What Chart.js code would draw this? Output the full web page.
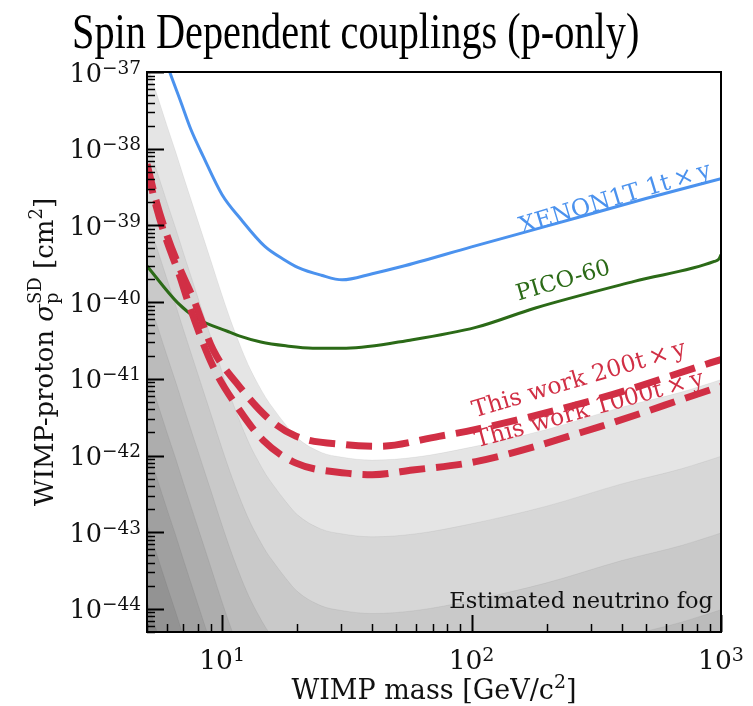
<!DOCTYPE html>
<html>
<head>
<meta charset="utf-8">
<script src="https://cdn.jsdelivr.net/npm/chart.js@4.4.1/dist/chart.umd.min.js"></script>
<style>
  html, body { margin: 0; padding: 0; background: #ffffff; }
  #wrap { width: 753px; height: 706px; }
</style>
</head>
<body>
<div id="wrap"><canvas id="chart" width="753" height="706"></canvas></div>
<script>
// ---- axis ranges and tick labels ----
const X_RANGE = [5, 1000];
const Y_RANGE = [5e-45, 1e-37];
const X_TICK_EXP = [1, 2, 3];
const Y_TICK_EXP = [-44, -43, -42, -41, -40, -39, -38, -37];

// ---- exclusion limits (mass in GeV/c^2, cross section as log10 cm^2) ----
const xenonMass = [6.0, 6.15, 6.85, 7.5, 8.4, 10, 11.9, 14.8, 17.8, 20.2, 25, 30.3, 40, 52, 100, 200, 500, 1000];
const xenonExp  = [-36.89, -36.99, -37.40, -37.75, -38.10, -38.60, -38.92, -39.27, -39.45, -39.55, -39.65, -39.71, -39.63, -39.54, -39.28, -39.01, -38.65, -38.39];

const picoMass = [5, 6.64, 8.0, 10.5, 11.7, 14.3, 18, 23.1, 31.4, 58, 104, 179, 449, 940, 980, 1000];
const picoExp  = [-39.53, -40.01, -40.22, -40.38, -40.44, -40.52, -40.57, -40.60, -40.60, -40.49, -40.33, -40.08, -39.73, -39.47, -39.44, -39.38];

const work200Mass = [5, 5.44, 6, 6.75, 7.7, 9.2, 11.4, 15.5, 19.8, 31.4, 42.6, 74, 104, 330, 912, 1000];
const work200Exp  = [-38.20, -38.68, -39.12, -39.55, -39.97, -40.62, -41.05, -41.53, -41.75, -41.86, -41.88, -41.75, -41.66, -41.25, -40.79, -40.75];

const work1000Mass = [5, 5.44, 6, 6.75, 7.4, 9.2, 11.7, 14.6, 19.8, 31.4, 40, 58, 104, 330, 955, 1000];
const work1000Exp  = [-38.25, -38.75, -39.20, -39.65, -40.05, -40.84, -41.40, -41.80, -42.10, -42.23, -42.25, -42.19, -42.08, -41.62, -41.12, -41.10];

// ---- neutrino fog contour boundaries (log10 cm^2), outermost first ----
const fogMass = [5, 5.5, 6, 6.5, 7, 7.5, 8, 9, 10, 11, 12, 13, 14, 15, 16, 18, 20, 25, 30, 40, 60, 100, 200, 400, 700, 1000];
const fog1 = [-36.90, -37.31, -37.69, -38.03, -38.36, -38.66, -38.94, -39.45, -39.91, -40.30, -40.62, -40.88, -41.08, -41.25, -41.38, -41.60, -41.77, -41.96, -42.02, -42.06, -42.02, -41.89, -41.66, -41.37, -41.17, -41.01];
const fog2 = [-37.90, -38.31, -38.69, -39.03, -39.36, -39.66, -39.94, -40.45, -40.91, -41.30, -41.62, -41.88, -42.08, -42.25, -42.38, -42.60, -42.77, -42.96, -43.02, -43.06, -43.02, -42.89, -42.66, -42.37, -42.17, -42.01];
const fog3 = [-38.90, -39.31, -39.69, -40.03, -40.36, -40.66, -40.94, -41.45, -41.91, -42.30, -42.62, -42.88, -43.08, -43.25, -43.38, -43.60, -43.77, -43.96, -44.02, -44.06, -44.02, -43.89, -43.66, -43.37, -43.17, -43.01];
const fog4 = [-39.90, -40.31, -40.69, -41.03, -41.36, -41.66, -41.94, -42.45, -42.91, -43.30, -43.62, -43.88, -44.08, -44.25, -44.38, -44.60, -44.77, -44.96, -45.02, -45.06, -45.02, -44.89, -44.66, -44.37, -44.17, -44.01];
const fog5 = [-40.90, -41.31, -41.69, -42.03, -42.36, -42.66, -42.94, -43.45, -43.91, -44.30, -44.62, -44.88, -45.08, -45.25, -45.38, -45.60, -45.77, -45.96, -46.02, -46.06, -46.02, -45.89, -45.66, -45.37, -45.17, -45.01];
const fog6 = [-41.90, -42.31, -42.69, -43.03, -43.36, -43.66, -43.94, -44.45, -44.91, -45.30, -45.62, -45.88, -46.08, -46.25, -46.38, -46.60, -46.77, -46.96, -47.02, -47.06, -47.02, -46.89, -46.66, -46.37, -46.17, -46.01];
const fog7 = [-42.90, -43.31, -43.69, -44.03, -44.36, -44.66, -44.94, -45.45, -45.91, -46.30, -46.62, -46.88, -47.08, -47.25, -47.38, -47.60, -47.77, -47.96, -48.02, -48.06, -48.02, -47.89, -47.66, -47.37, -47.17, -47.01];
const fog8 = [-43.90, -44.31, -44.69, -45.03, -45.36, -45.66, -45.94, -46.45, -46.91, -47.30, -47.62, -47.88, -48.08, -48.25, -48.38, -48.60, -48.77, -48.96, -49.02, -49.06, -49.02, -48.89, -48.66, -48.37, -48.17, -48.01];
const fogLevels = [fog1, fog2, fog3, fog4, fog5, fog6, fog7, fog8];
const fogShades = ['#e5e5e5', '#d7d7d7', '#c9c9c9', '#bbbbbb', '#adadad', '#a0a0a0', '#939393', '#868686'];

// ---- colours and texts ----
const BLUE = '#4b92ee';
const GREEN = '#2b6a17';
const RED = '#d12f45';
const SERIF = '"DejaVu Serif", serif';
const TITLE = 'Spin Dependent couplings (p-only)';

function toPoints(mass, exps) {
  return mass.map((m, i) => ({ x: m, y: Math.pow(10, exps[i]) }));
}

const datasets = [];
fogLevels.forEach((lvl, k) => {
  datasets.push({
    label: 'fog ' + (k + 1),
    data: toPoints(fogMass, lvl),
    borderColor: 'rgba(0,0,0,0.05)',
    borderWidth: 1,
    backgroundColor: fogShades[k],
    fill: 'start',
    pointRadius: 0,
    cubicInterpolationMode: 'monotone',
    order: 100 - k
  });
});
datasets.push({
  label: 'XENON1T',
  data: toPoints(xenonMass, xenonExp),
  borderColor: BLUE, borderWidth: 3, fill: false, pointRadius: 0,
  cubicInterpolationMode: 'monotone', order: 3
});
datasets.push({
  label: 'PICO-60',
  data: toPoints(picoMass, picoExp),
  borderColor: GREEN, borderWidth: 3, fill: false, pointRadius: 0,
  cubicInterpolationMode: 'monotone', order: 2
});
datasets.push({
  label: 'This work 200t',
  data: toPoints(work200Mass, work200Exp),
  borderColor: RED, borderWidth: 7, borderDash: [26, 11], borderCapStyle: 'butt',
  fill: false, pointRadius: 0, cubicInterpolationMode: 'monotone', order: 1
});
datasets.push({
  label: 'This work 1000t',
  data: toPoints(work1000Mass, work1000Exp),
  borderColor: RED, borderWidth: 7, borderDash: [26, 11], borderCapStyle: 'butt',
  fill: false, pointRadius: 0, cubicInterpolationMode: 'monotone', order: 0
});

// draw a sequence of text runs (for super/subscripts) along one baseline
function drawRuns(ctx, runs, x, y, align) {
  let total = 0;
  const widths = runs.map(r => {
    ctx.font = r.font;
    return ctx.measureText(r.t).width;
  });
  runs.forEach((r, i) => { if (!r.stack) total += (r.adv != null ? r.adv : widths[i]); });
  let cx = align === 'center' ? x - total / 2 : (align === 'right' ? x - total : x);
  runs.forEach((r, i) => {
    ctx.font = r.font;
    ctx.fillText(r.t, cx, y + (r.dy || 0));
    if (!r.stack) cx += (r.adv != null ? r.adv : widths[i]);
  });
}

function powerRuns(exp, big, small) {
  const s = exp < 0 ? '\u2212' + Math.abs(exp) : String(exp);
  return [
    { t: '10', font: big + 'px ' + SERIF, dy: 0 },
    { t: s, font: small + 'px ' + SERIF, dy: -8 }
  ];
}

function rotatedText(ctx, text, x, y, deg, font, color) {
  ctx.save();
  ctx.translate(x, y);
  ctx.rotate(-deg * Math.PI / 180);
  ctx.font = font;
  ctx.fillStyle = color;
  ctx.textAlign = 'center';
  ctx.textBaseline = 'alphabetic';
  ctx.fillText(text, 0, 0);
  ctx.restore();
}

const decorations = {
  id: 'decorations',
  afterDatasetsDraw(chart) {
    const { ctx, chartArea: a, scales } = chart;
    const xs = scales.x, ys = scales.y;
    ctx.save();

    // curve annotations
    rotatedText(ctx, 'XENON1T 1t\u2009\u00d7\u2009y', 617, 205, 16.8, '23.5px ' + SERIF, BLUE);
    rotatedText(ctx, 'PICO-60', 565, 287, 16.3, '22.5px ' + SERIF, GREEN);
    rotatedText(ctx, 'This work 200t\u2009\u00d7\u2009y', 581, 386, 16.5, '23.5px ' + SERIF, RED);
    rotatedText(ctx, 'This work 1000t\u2009\u00d7\u2009y', 591, 416, 15.5, '23.5px ' + SERIF, RED);

    ctx.fillStyle = '#111';
    ctx.font = '22.5px ' + SERIF;
    ctx.textAlign = 'right';
    ctx.textBaseline = 'alphabetic';
    ctx.fillText('Estimated neutrino fog', a.right - 8, a.bottom - 24);

    // inward ticks
    ctx.strokeStyle = '#000';
    for (let e = -45; e <= -37; e++) {
      for (let j = 1; j < 10; j++) {
        const v = j * Math.pow(10, e);
        if (v < ys.min * 0.999 || v > ys.max * 1.001) continue;
        const py = Math.round(ys.getPixelForValue(v)) + 0.5;
        ctx.lineWidth = j === 1 ? 2 : 1.5;
        ctx.beginPath();
        ctx.moveTo(a.left, py);
        ctx.lineTo(a.left + (j === 1 ? 17 : 8), py);
        ctx.stroke();
      }
    }
    for (let e = 0; e <= 3; e++) {
      for (let j = 1; j < 10; j++) {
        const v = j * Math.pow(10, e);
        if (v < xs.min * 0.999 || v > xs.max * 1.001) continue;
        const px = Math.round(xs.getPixelForValue(v)) + 0.5;
        ctx.lineWidth = j === 1 ? 2 : 1.5;
        ctx.beginPath();
        ctx.moveTo(px, a.bottom);
        ctx.lineTo(px, a.bottom - (j === 1 ? 17 : 8));
        ctx.stroke();
      }
    }

    // frame
    ctx.lineWidth = 2;
    ctx.strokeRect(a.left, a.top, a.right - a.left, a.bottom - a.top);

    // tick labels
    ctx.fillStyle = '#111';
    ctx.textBaseline = 'alphabetic';
    ctx.textAlign = 'left';
    Y_TICK_EXP.forEach(e => {
      const py = ys.getPixelForValue(Math.pow(10, e));
      drawRuns(ctx, powerRuns(e, 25.5, 18.5), a.left - 6, py + 9.5, 'right');
    });
    X_TICK_EXP.forEach(e => {
      const px = xs.getPixelForValue(Math.pow(10, e));
      drawRuns(ctx, powerRuns(e, 26.5, 19), px, a.bottom + 37, 'center');
    });

    // axis titles
    drawRuns(ctx, [
      { t: 'WIMP mass [GeV/c', font: '27px ' + SERIF },
      { t: '2', font: '19px ' + SERIF, dy: -11 },
      { t: ']', font: '27px ' + SERIF }
    ], (a.left + a.right) / 2, 699, 'center');

    ctx.save();
    ctx.translate(53, (a.top + a.bottom) / 2);
    ctx.rotate(-Math.PI / 2);
    ctx.font = '18px ' + SERIF;
    const subW = Math.max(ctx.measureText('p').width, ctx.measureText('SD').width);
    drawRuns(ctx, [
      { t: 'WIMP-proton ', font: '26px ' + SERIF },
      { t: '\u03c3', font: 'italic 26px ' + SERIF },
      { t: 'p', font: '18px ' + SERIF, dy: 5, stack: true },
      { t: 'SD', font: '18px ' + SERIF, dy: -12, adv: subW },
      { t: ' [cm', font: '26px ' + SERIF },
      { t: '2', font: '18px ' + SERIF, dy: -11 },
      { t: ']', font: '26px ' + SERIF }
    ], 0, 0, 'center');
    ctx.restore();

    // title
    ctx.save();
    ctx.translate(72, 48);
    ctx.scale(0.79, 1);
    ctx.font = '51px "Liberation Serif", serif';
    ctx.fillStyle = '#000';
    ctx.textAlign = 'left';
    ctx.fillText(TITLE, 0, 0);
    ctx.restore();

    ctx.restore();
  }
};

new Chart(document.getElementById('chart'), {
  type: 'line',
  data: { datasets },
  options: {
    responsive: false,
    animation: false,
    devicePixelRatio: 1,
    layout: { padding: { left: 147, top: 72, right: 32, bottom: 74 } },
    plugins: { legend: { display: false }, tooltip: { enabled: false }, title: { display: false } },
    scales: {
      x: { type: 'logarithmic', min: X_RANGE[0], max: X_RANGE[1], display: false },
      y: { type: 'logarithmic', min: Y_RANGE[0], max: Y_RANGE[1], display: false }
    }
  },
  plugins: [decorations]
});
</script>
</body>
</html>
